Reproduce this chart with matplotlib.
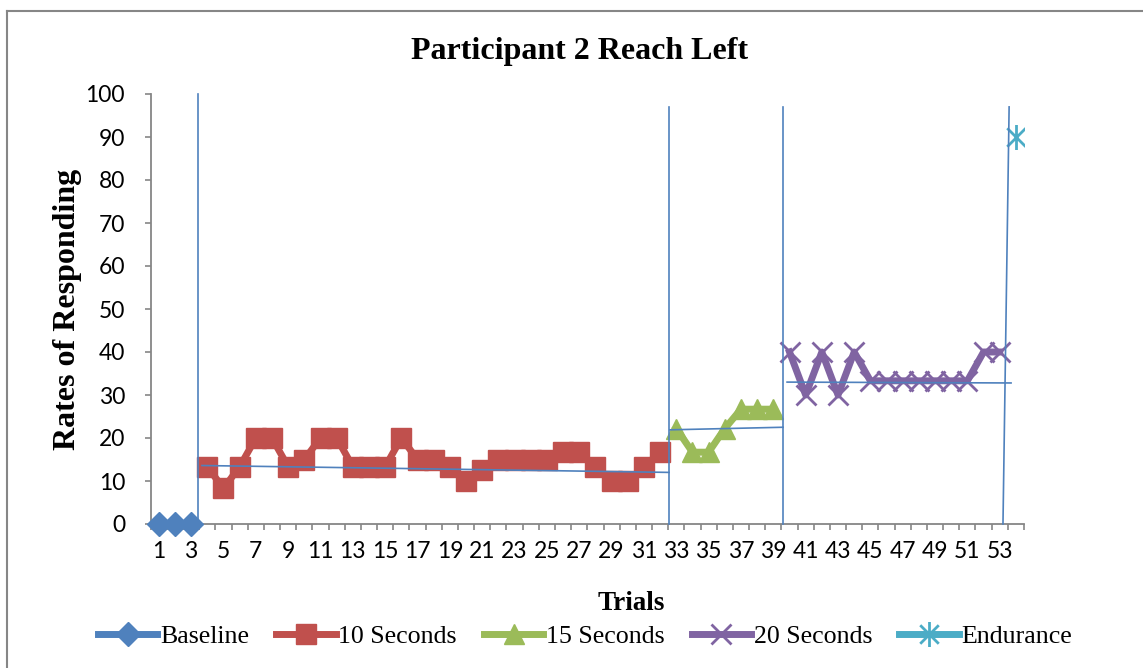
import numpy as np
import matplotlib.pyplot as plt
from matplotlib.path import Path
from matplotlib.lines import Line2D

# rates per trial, one list per phase
baseline_x = [1, 2, 3]
baseline = [0, 0, 0]
sec10_x = list(range(4, 33))
sec10 = [13.3, 8.3, 13.3, 20, 20, 13.3, 15, 20, 20, 13.3, 13.3, 13.3, 20, 15, 15,
         13.3, 10, 12.5, 15, 15, 15, 15, 16.7, 16.7, 13.3, 10, 10, 13.3, 16.7]
sec15_x = list(range(33, 40))
sec15 = [22.2, 16.7, 16.7, 22.2, 26.7, 26.7, 26.7]
sec20_x = list(range(40, 54))
sec20 = [40, 30, 40, 30, 40, 33.3, 33.3, 33.3, 33.3, 33.3, 33.3, 33.3, 40, 40]
endurance_x = [54]
endurance = [90]

n_trials = 54
tick_labels = [str(t) for t in range(1, n_trials + 1, 2)]

# phase change lines (x at bottom, x at top, top value)
phase_bottom = [3.42, 32.55, 39.6, 53.2]
phase_top = [3.42, 32.55, 39.6, 53.58]
phase_height = [100, 97, 97, 97]

# level lines drawn in each phase
level_x0 = [3.67, 32.6, 39.85]
level_y0 = [13.6, 21.9, 33.0]
level_x1 = [32.55, 39.6, 53.7]
level_y1 = [12.0, 22.5, 32.8]

blue = '#4F81BD'
red = '#C0504D'
green = '#9BBB59'
purple = '#8064A2'
cyan = '#4BACC6'
grey = '#868686'

# asterisk marker: an x with a vertical stroke
star = Path([(-1, -1), (1, 1), (-1, 1), (1, -1), (0, -1.35), (0, 1.35)],
            [Path.MOVETO, Path.LINETO, Path.MOVETO, Path.LINETO, Path.MOVETO, Path.LINETO])

fig = plt.figure(figsize=(11.43, 6.68), dpi=100)
ax = fig.add_axes([150.7 / 1143, 1 - 524 / 668, (1024 - 150.7) / 1143, 430 / 668])

lw = 5
ax.plot(baseline_x, baseline, color=blue, lw=lw, marker='D', ms=12, clip_on=False,
        zorder=4, label='Baseline')
ax.plot(sec10_x, sec10, color=red, lw=lw, marker='s', ms=14.5, zorder=4, label='10 Seconds')
ax.plot(sec15_x, sec15, color=green, lw=lw, marker='^', ms=15, zorder=4, label='15 Seconds')
ax.plot(sec20_x, sec20, color=purple, lw=lw, marker='x', ms=14, mew=2, zorder=4,
        label='20 Seconds')
ax.plot(endurance_x, endurance, color=cyan, lw=lw, marker=star, ms=18, mew=2, zorder=4,
        label='Endurance')

for xb, xt, h in zip(phase_bottom, phase_top, phase_height):
    ax.plot([xb, xt], [0, h], color=blue, lw=1.2, zorder=5, clip_on=False)
for x0, y0, x1, y1 in zip(level_x0, level_y0, level_x1, level_y1):
    ax.plot([x0, x1], [y0, y1], color=blue, lw=1.2, zorder=5)

ax.set_xlim(0.5, n_trials + 0.5)
ax.set_ylim(0, 100)
ax.set_yticks(np.arange(0, 101, 10))
ax.set_xticks(range(1, n_trials + 1, 2))
ax.set_xticklabels(tick_labels)
ax.set_xticks(np.arange(0.5, n_trials + 1, 1), minor=True)

for s in ['top', 'right']:
    ax.spines[s].set_visible(False)
for s in ['left', 'bottom']:
    ax.spines[s].set_color(grey)
    ax.spines[s].set_linewidth(1.3)

ax.tick_params(axis='x', which='major', length=0, pad=12)
ax.tick_params(axis='x', which='minor', length=4, color=grey, width=1.2)
ax.tick_params(axis='y', length=4.5, color=grey, width=1.2, pad=14)
for lab in ax.get_xticklabels() + ax.get_yticklabels():
    lab.set_fontfamily('Lato')
    lab.set_fontsize(16.5)

serif = 'Liberation Serif'
ax.set_ylabel('Rates of Responding', family=serif, fontsize=23, fontweight='bold')
ax.yaxis.set_label_coords(-0.079, 0.5)

fig.text(580 / 1143, 1 - 52 / 668, 'Participant 2 Reach Left', family=serif, fontsize=23,
         fontweight='bold', ha='center', va='center')
fig.text(631 / 1143, 1 - 603 / 668, 'Trials', family=serif, fontsize=19.5,
         fontweight='bold', ha='center', va='center')

leg = fig.legend(loc='center', bbox_to_anchor=(585 / 1143, 1 - 636 / 668), ncol=5,
                 frameon=False, prop=dict(family=serif, size=18.6), handlelength=2.3,
                 handletextpad=0.1, columnspacing=1.05, borderpad=0)

# outer chart frame, left and top edges only
fig.add_artist(Line2D([7 / 1143, 7 / 1143], [0, 1 - 11 / 668], color=grey, lw=1.5))
fig.add_artist(Line2D([7 / 1143, 1], [1 - 11 / 668, 1 - 11 / 668], color=grey, lw=1.5))

fig.savefig('out.png', dpi=100)
